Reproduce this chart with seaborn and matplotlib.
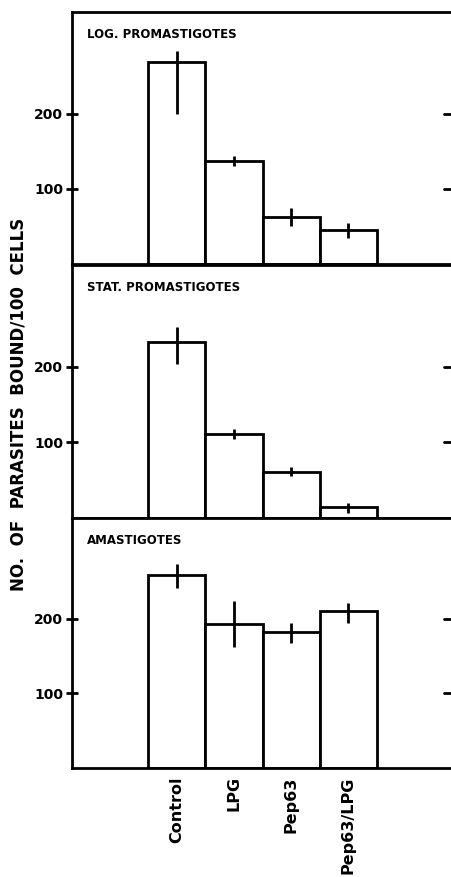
import pandas as pd
import matplotlib
matplotlib.use("Agg")
import matplotlib.pyplot as plt
import seaborn as sns

# === Data ===
TREATMENTS = ["Control", "LPG", "Pep63", "Pep63/LPG"]
PANEL_TITLES = ["LOG. PROMASTIGOTES", "STAT. PROMASTIGOTES", "AMASTIGOTES"]

log_mean = [269, 137, 63, 45]
log_upper = [283, 143, 75, 54]
log_lower = [200, 130, 50, 34]

stat_mean = [233, 111, 61, 14]
stat_upper = [253, 118, 67, 20]
stat_lower = [204, 104, 55, 6]

ama_mean = [259, 193, 182, 210]
ama_upper = [273, 224, 194, 221]
ama_lower = [241, 162, 168, 194]

Y_TICKS = [100, 200]
Y_LABEL = "NO.  OF  PARASITES  BOUND/100  CELLS"

sns.set_style("ticks")
plt.rcParams["font.family"] = ["DejaVu Sans"]
plt.rcParams["font.weight"] = "bold"
plt.rcParams["text.color"] = "black"
plt.rcParams["axes.edgecolor"] = "black"
plt.rcParams["xtick.color"] = "black"
plt.rcParams["ytick.color"] = "black"

fig = plt.figure(figsize=(4.51, 8.77), dpi=100)

left = 72 / 451
width = 381 / 451
panel_px = [(12, 264), (265, 518), (518, 768)]

panels = [
    (log_mean, log_lower, log_upper),
    (stat_mean, stat_lower, stat_upper),
    (ama_mean, ama_lower, ama_upper),
]

for i, ((top, bottom), (mean, lower, upper)) in enumerate(zip(panel_px, panels)):
    ax = fig.add_axes([left, 1 - bottom / 877, width, (bottom - top) / 877])
    df = pd.DataFrame({"Treatment": TREATMENTS, "Bound": mean})
    sns.barplot(
        data=df,
        x="Treatment",
        y="Bound",
        order=TREATMENTS,
        color="white",
        edgecolor="black",
        linewidth=2,
        width=1.0,
        errorbar=None,
        ax=ax,
    )
    yerr = [
        [m - lo for m, lo in zip(mean, lower)],
        [up - m for m, up in zip(mean, upper)],
    ]
    ax.errorbar(
        range(len(TREATMENTS)), mean, yerr=yerr,
        fmt="none", ecolor="black", elinewidth=2, capsize=0,
    )
    ax.set_xlim(-1.83, 4.83)
    ax.set_ylim(0, 335)
    ax.set_yticks(Y_TICKS)
    ax.set_yticklabels([str(t) for t in Y_TICKS], fontsize=10, fontweight="bold")
    ax.tick_params(axis="y", left=True, right=False, direction="inout",
                   length=9, width=2, pad=2)
    ax.set_ylabel("")
    ax.set_xlabel("")
    for spine in ax.spines.values():
        spine.set_linewidth(2)
    ax.spines["right"].set_visible(False)
    ax.text(0.04, 0.91, PANEL_TITLES[i], transform=ax.transAxes,
            fontsize=8.5, fontweight="bold", ha="left", va="center")
    if i < 2:
        ax.set_xticks([])
    else:
        ax.tick_params(axis="x", length=0, pad=6)
        ax.set_xticklabels(TREATMENTS, rotation=90, fontsize=11.5,
                           fontweight="bold", va="top")
    # short ticks near the right edge
    for y in Y_TICKS:
        ax.plot([4.68, 4.83], [y, y], color="black", lw=2, clip_on=False)

fig.text(19 / 451, 1 - 404 / 877, Y_LABEL, rotation=90, fontsize=12,
         fontweight="bold", ha="center", va="center")

fig.savefig("out.png", dpi=100, facecolor="white")
